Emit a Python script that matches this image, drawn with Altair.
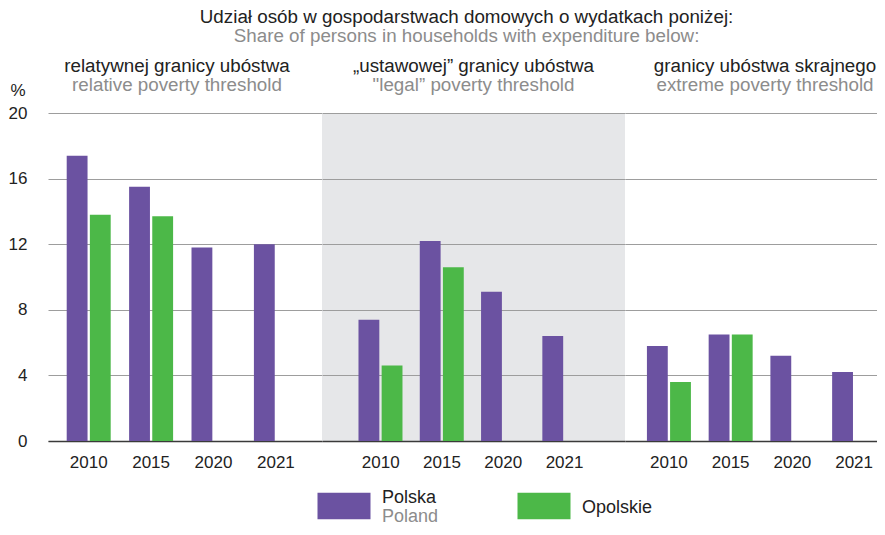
import altair as alt
import pandas as pd

FONT = "Liberation Sans"
BLACK = "#222222"
GREY = "#8c8c8c"
PURPLE = "#6b52a1"
GREEN = "#4cb848"
TS = 18.8

years = ["2010", "2015", "2020", "2021"]
series = ["Polska", "Opolskie"]
series_en = ["Poland", ""]

groups_pl = ["relatywnej granicy ubóstwa", "„ustawowej” granicy ubóstwa", "granicy ubóstwa skrajnego"]
groups_en = ["relative poverty threshold", "\"legal” poverty threshold", "extreme poverty threshold"]

polska_rel = [17.4, 15.5, 11.8, 12.0]
opolskie_rel = [13.8, 13.7, None, None]
polska_legal = [7.4, 12.2, 9.1, 6.4]
opolskie_legal = [4.6, 10.6, None, None]
polska_ext = [5.8, 6.5, 5.2, 4.2]
opolskie_ext = [3.6, 6.5, None, None]

group_values = [
    (polska_rel, opolskie_rel),
    (polska_legal, opolskie_legal),
    (polska_ext, opolskie_ext),
]

PLOT_H = 328
panel_widths = [274, 303, 252]
panel_inner = [0.295, 0.276, 0.288]
panel_outer = [0.343, 0.61, 0.185]
panel_align = [0.437, 0.488, 0.96]
title_dx = [-8, 0, 14]
title_offset = [18 - 31.5, 18, 18]

color_scale = alt.Scale(domain=series, range=[PURPLE, GREEN])

panels = []
for i, (pl_vals, op_vals) in enumerate(group_values):
    rows = []
    for y, v in zip(years, pl_vals):
        rows.append({"year": y, "series": "Polska", "value": v})
    for y, v in zip(years, op_vals):
        if v is not None:
            rows.append({"year": y, "series": "Opolskie", "value": v})
    df = pd.DataFrame(rows)

    if i == 0:
        yaxis = alt.Axis(
            values=[0, 4, 8, 12, 16, 20], grid=True, gridColor="#9d9d9d",
            ticks=False, domain=False, labelFontSize=17, labelFont=FONT,
            labelColor=BLACK, labelPadding=21, title="%", titleAngle=0,
            titleAlign="left", titleBaseline="middle", titleX=-38, titleY=-23,
            titleFontSize=17, titleFont=FONT, titleFontWeight="normal",
            titleColor=BLACK,
        )
    else:
        yaxis = alt.Axis(
            values=[0, 4, 8, 12, 16, 20], grid=True, gridColor="#9d9d9d",
            ticks=False, domain=False, labels=False, title=None,
        )

    chart = alt.Chart(df).mark_bar().encode(
        x=alt.X(
            "year:N", sort=years,
            scale=alt.Scale(domain=years, paddingInner=panel_inner[i],
                            paddingOuter=panel_outer[i], align=panel_align[i]),
            axis=alt.Axis(title=None, labelAngle=0, ticks=False, domain=True,
                          domainColor="#3a3a3a", domainWidth=1.6,
                          labelFontSize=17, labelFont=FONT, labelColor=BLACK,
                          labelPadding=13),
        ),
        xOffset=alt.XOffset("series:N", sort=series,
                            scale=alt.Scale(domain=series, paddingInner=0.1)),
        y=alt.Y("value:Q", scale=alt.Scale(domain=[0, 20]), axis=yaxis),
        color=alt.Color("series:N", scale=color_scale, legend=None),
    ).properties(
        width=panel_widths[i], height=PLOT_H,
        title=alt.TitleParams(
            text=groups_pl[i], subtitle=groups_en[i], anchor="middle",
            font=FONT, fontSize=TS, fontWeight="normal", color=BLACK,
            subtitleFont=FONT, subtitleFontSize=TS, subtitleColor=GREY,
            subtitlePadding=0, offset=title_offset[i], dx=title_dx[i],
        ),
    )
    if i == 1:
        chart = chart.properties(view=alt.ViewBackground(fill="#e6e7e9", stroke=None))
    else:
        chart = chart.properties(view=alt.ViewBackground(stroke=None))
    panels.append(chart)

row = alt.hconcat(*panels, spacing=0).resolve_scale(x="independent")

leg_df = pd.DataFrame({"series": series, "en": series_en})
leg_base = alt.Chart(leg_df).encode(
    x=alt.X("series:N", sort=series, axis=None,
            scale=alt.Scale(type="point", domain=series, range=[296, 496], padding=0)),
)
leg_sw = leg_base.mark_point(
    shape="M-1,-0.5H1V0.5H-1Z", size=53 * 53, filled=True, opacity=1, strokeWidth=0
).encode(color=alt.Color("series:N", scale=color_scale, legend=None))
txt = dict(align="left", baseline="middle", dx=38, fontSize=18, font=FONT)
leg_pl_two = leg_base.transform_filter("datum.en != ''").mark_text(
    dy=-8.5, color=BLACK, **txt).encode(text="series:N")
leg_en_two = leg_base.transform_filter("datum.en != ''").mark_text(
    dy=10.5, color=GREY, **txt).encode(text="en:N")
leg_pl_one = leg_base.transform_filter("datum.en == ''").mark_text(
    dy=1.5, color=BLACK, **txt).encode(text="series:N")
legend = alt.layer(leg_sw, leg_pl_two, leg_en_two, leg_pl_one).properties(
    width=640, height=28, view=alt.ViewBackground(stroke=None)
)

chart = alt.vconcat(row, legend, spacing=18).resolve_scale(x="independent").properties(
    title=alt.TitleParams(
        text="Udział osób w gospodarstwach domowych o wydatkach poniżej:",
        subtitle="Share of persons in households with expenditure below:",
        anchor="middle", font=FONT, fontSize=TS, fontWeight="normal",
        color=BLACK, subtitleFont=FONT, subtitleFontSize=TS,
        subtitleColor=GREY, subtitlePadding=0, offset=11, dx=24,
    ),
    padding={"left": 0, "top": 0, "right": 0, "bottom": 0},
).configure_view(stroke=None)

chart.save("out.html", embed_options={"renderer": "svg", "actions": False})
